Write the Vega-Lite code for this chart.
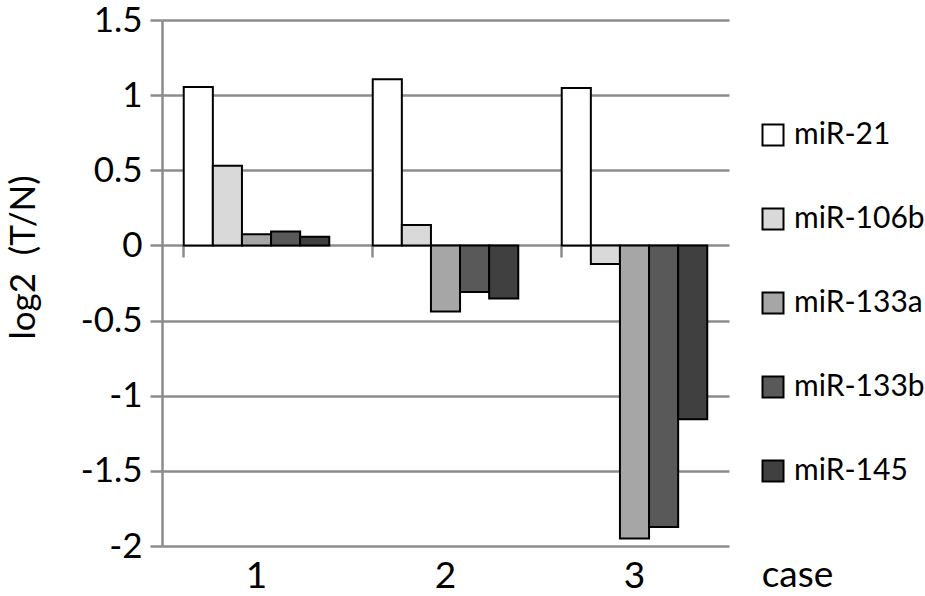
{
  "$schema": "https://vega.github.io/schema/vega-lite/v6.json",
  "width": 567,
  "height": 526,
  "autosize": {"type": "none"},
  "padding": {"left": 162, "top": 20, "right": 196, "bottom": 50},
  "background": "white",
  "config": {"view": {"stroke": null}, "font": "Lato"},
  "data": {
    "values": [
      {"case": "1", "miRNA": "miR-21", "value": 1.055},
      {"case": "1", "miRNA": "miR-106b", "value": 0.53},
      {"case": "1", "miRNA": "miR-133a", "value": 0.074},
      {"case": "1", "miRNA": "miR-133b", "value": 0.092},
      {"case": "1", "miRNA": "miR-145", "value": 0.057},
      {"case": "2", "miRNA": "miR-21", "value": 1.105},
      {"case": "2", "miRNA": "miR-106b", "value": 0.136},
      {"case": "2", "miRNA": "miR-133a", "value": -0.44},
      {"case": "2", "miRNA": "miR-133b", "value": -0.31},
      {"case": "2", "miRNA": "miR-145", "value": -0.353},
      {"case": "3", "miRNA": "miR-21", "value": 1.048},
      {"case": "3", "miRNA": "miR-106b", "value": -0.123},
      {"case": "3", "miRNA": "miR-133a", "value": -1.95},
      {"case": "3", "miRNA": "miR-133b", "value": -1.873},
      {"case": "3", "miRNA": "miR-145", "value": -1.156}
    ]
  },
  "layer": [
    {
      "mark": {"type": "bar", "stroke": "black", "strokeWidth": 2},
      "encoding": {
        "x": {
          "field": "case", "type": "nominal",
          "scale": {"paddingInner": 0.23, "paddingOuter": 0.115},
          "axis": {
            "orient": "bottom", "domain": false, "ticks": false, "grid": false,
            "labelAngle": 0, "labelFontSize": 37, "labelColor": "black",
            "labelPadding": 30, "labelBaseline": "middle",
            "title": "case", "titleFontSize": 37, "titleFontWeight": "normal", "titleColor": "black",
            "titleX": 635, "titleY": 29, "titleBaseline": "middle", "titleAlign": "center"
          }
        },
        "xOffset": {"field": "miRNA", "type": "nominal", "sort": ["miR-21", "miR-106b", "miR-133a", "miR-133b", "miR-145"]},
        "y": {
          "field": "value", "type": "quantitative",
          "scale": {"domain": [-2, 1.5], "nice": false, "zero": false},
          "axis": {
            "values": [-2, -1.5, -1, -0.5, 0, 0.5, 1, 1.5],
            "labelExpr": "'' + datum.value",
            "labelFontSize": 35, "labelColor": "black", "labelPadding": 8,
            "tickSize": 12, "tickColor": "#8c8c8c", "tickWidth": 2.5,
            "domainColor": "#8c8c8c", "domainWidth": 2.5,
            "gridColor": "#8c8c8c", "gridWidth": 2.5,
            "title": "log2\u00a0\u00a0(T/N)", "titleFontSize": 35, "titleFontWeight": "normal", "titleColor": "black",
            "titleAngle": 270, "titleX": -139, "titleY": 237, "titleAlign": "center", "titleBaseline": "middle"
          }
        },
        "fill": {
          "field": "miRNA", "type": "nominal",
          "scale": {
            "domain": ["miR-21", "miR-106b", "miR-133a", "miR-133b", "miR-145"],
            "range": ["#ffffff", "#d9d9d9", "#a6a6a6", "#595959", "#404040"]
          },
          "legend": {
            "orient": "none", "legendX": 596, "legendY": 100, "title": null, "padding": 0,
            "symbolType": "square", "symbolSize": 441, "symbolStrokeColor": "black", "symbolStrokeWidth": 2,
            "symbolOpacity": 1,
            "labelFontSize": 30, "labelColor": "black", "labelOffset": 6, "rowPadding": 54
          }
        }
      }
    },
    {
      "mark": {"type": "bar", "opacity": 0},
      "encoding": {
        "x": {
          "field": "case", "type": "nominal",
          "axis": {
            "orient": "bottom", "offset": -301, "bandPosition": 0,
            "labels": false, "title": null, "domain": false, "grid": false,
            "ticks": true, "tickSize": 12, "tickColor": "#8c8c8c", "tickWidth": 2.5
          }
        },
        "xOffset": {"field": "miRNA", "type": "nominal", "sort": ["miR-21", "miR-106b", "miR-133a", "miR-133b", "miR-145"]},
        "y": {"field": "value", "type": "quantitative", "axis": null}
      }
    }
  ],
  "resolve": {"axis": {"x": "independent", "y": "independent"}}
}
